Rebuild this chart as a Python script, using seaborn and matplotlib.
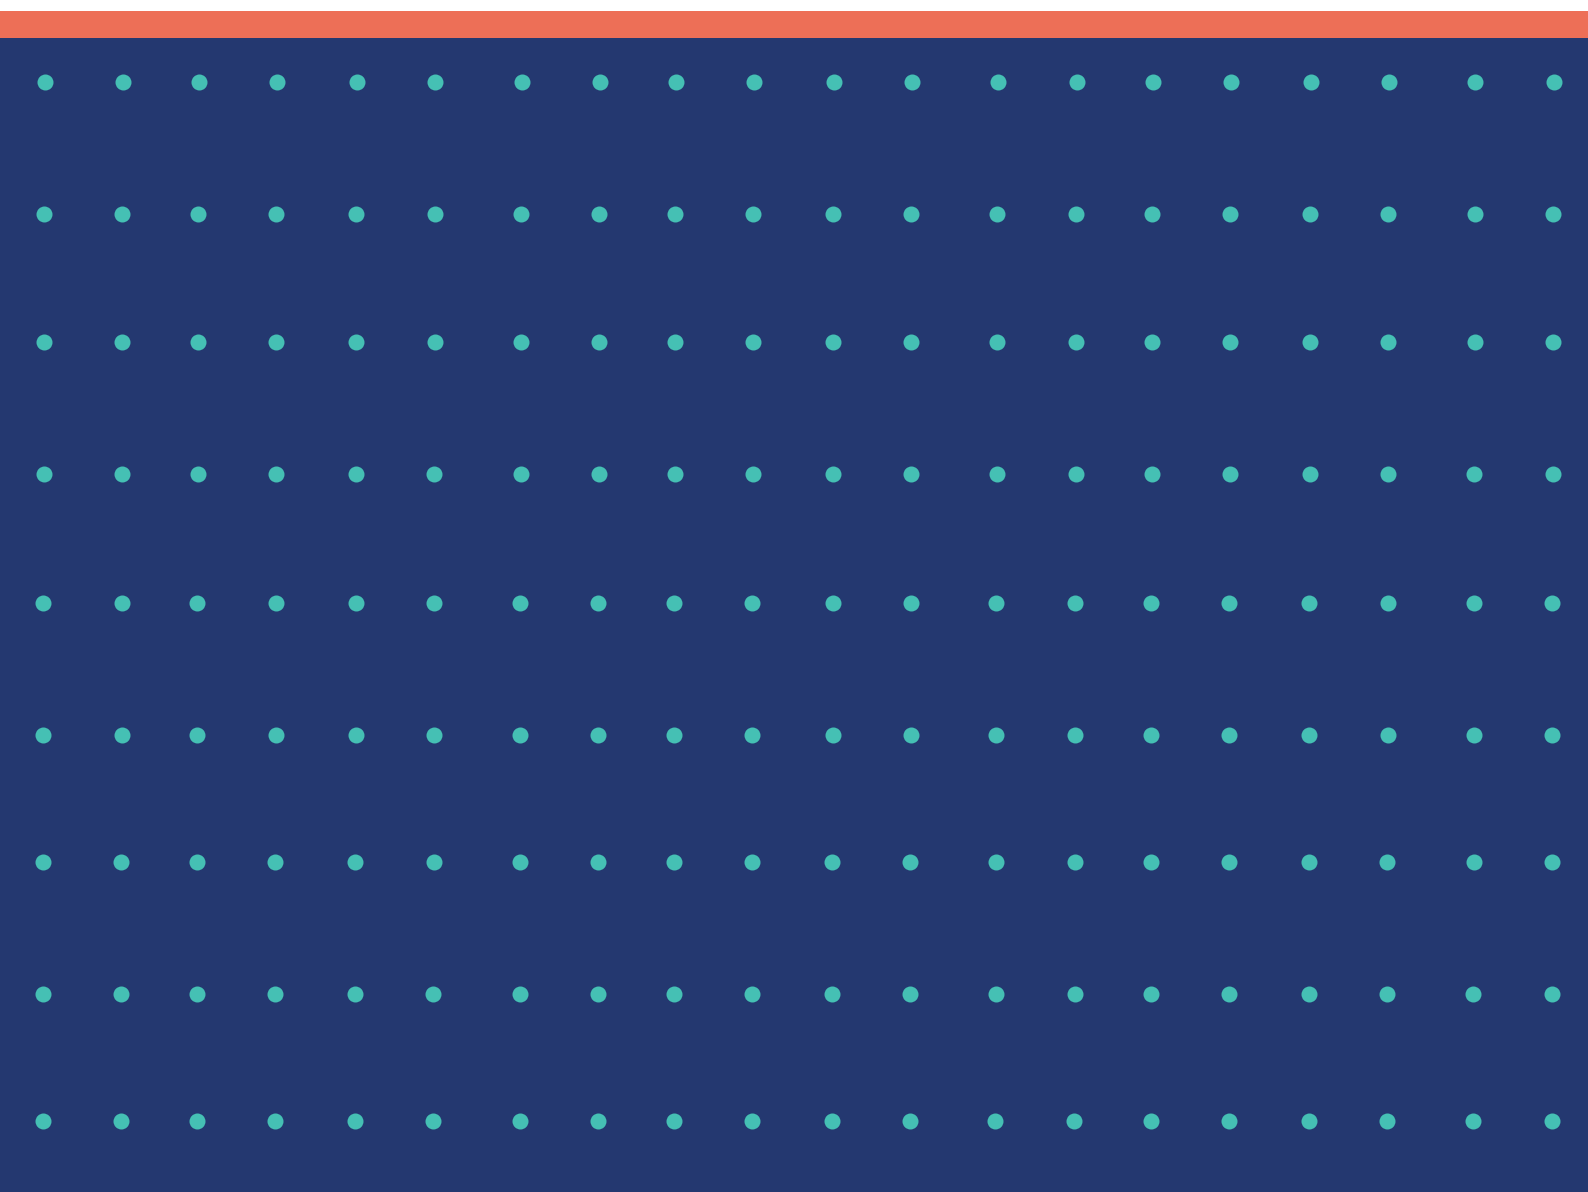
import numpy as np
import pandas as pd
import seaborn as sns
import matplotlib.pyplot as plt

# pozitiile punctelor (pixeli)
coloane_x = [44.7, 123.0, 198.7, 277.0, 357.0, 435.3,
             521.7, 599.7, 675.7, 753.7, 834.0, 912.0,
             997.6, 1076.6, 1152.7, 1230.7, 1310.7, 1389.0,
             1475.3, 1553.7]
randuri_y = [82.0, 213.5, 341.5, 473.5, 602.7, 734.5, 862.0, 994.0, 1121.0]
decalaj_rand = [0.0, -0.6, -0.7, -1.0, -1.3, -1.5, -1.7, -1.9, -2.2]

latime, inaltime = 1588, 1192
banda_alba = 11
banda_portocalie = 38

culoare_fundal = '#243870'
culoare_banda = '#ED6F57'
culoare_puncte = '#45C0B4'


def grila():
    sns.set_style('white')

    rows = []
    for y, dx in zip(randuri_y, decalaj_rand):
        for x in coloane_x:
            rows.append({'x': x + dx, 'y': y})
    df = pd.DataFrame(rows)

    fig = plt.figure(figsize=(latime / 100, inaltime / 100), dpi=100)
    ax = fig.add_axes([0, 0, 1, 1])
    fig.patch.set_facecolor('white')

    # fundalul: alb sus, banda portocalie, apoi albastru inchis
    ax.axhspan(0, banda_alba, color='white', lw=0)
    ax.axhspan(banda_alba, banda_portocalie, color=culoare_banda, lw=0)
    ax.axhspan(banda_portocalie, inaltime, color=culoare_fundal, lw=0)

    # diametru ~16 px -> 11.5 pt
    sns.scatterplot(data=df, x='x', y='y', ax=ax, color=culoare_puncte,
                    s=(16 * 72 / 100) ** 2, linewidth=0, legend=False,
                    zorder=3)

    ax.set_xlim(0, latime)
    ax.set_ylim(inaltime, 0)
    ax.axis('off')

    fig.savefig('out.png', dpi=100, facecolor='white')


if __name__ == "__main__":
    grila()
